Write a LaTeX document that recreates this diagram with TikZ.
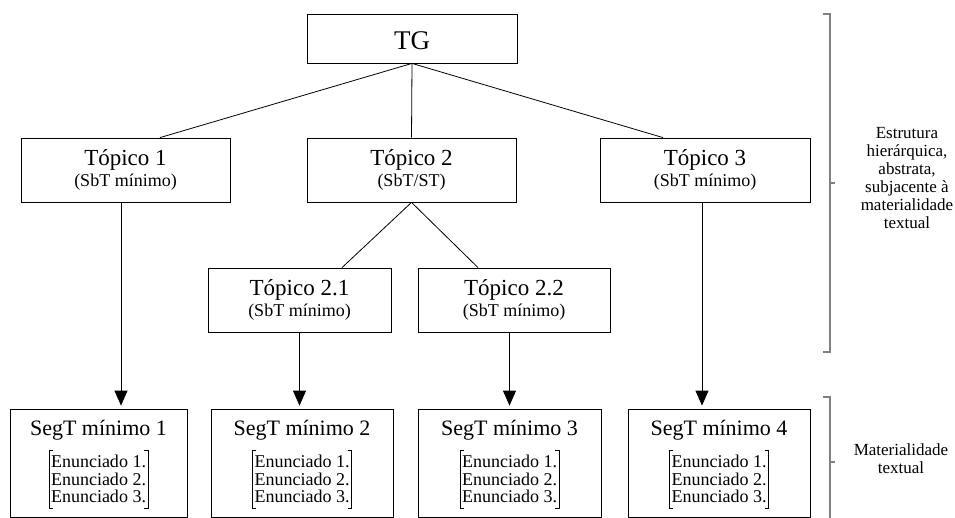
\documentclass[tikz,border=0pt]{standalone}
\usepackage{fontspec}
\setmainfont{Liberation Serif}
\usetikzlibrary{arrows.meta}

\begin{document}
\begin{tikzpicture}[x=1pt,y=-1pt,
box/.style={draw,line width=0.8pt,inner sep=0pt,align=center},
topico/.style={box,minimum height=64pt,font=\fontsize{23}{21}\selectfont,execute at begin node={\rule{0pt}{21pt}}},
segt/.style={box,minimum height=108pt},
seglabel/.style={inner sep=0pt,font=\fontsize{22}{24}\selectfont},
enun/.style={align=left,inner xsep=2pt,inner ysep=5pt,font=\fontsize{18}{17.5}\selectfont},
arr/.style={-{Triangle[width=13pt,length=15pt]},line width=0.8pt,shorten >=3pt},
chave/.style={draw=gray,line width=1.2pt},
lado/.style={align=center,font=\fontsize{17}{18}\selectfont}
]
\useasboundingbox (0,0) rectangle (955,518);

\node[box,minimum width=210pt,minimum height=49pt,font=\fontsize{27}{30}\selectfont,execute at begin node={\rule{0pt}{22pt}}] (tg) at (412,38.5) {TG};

\node[topico,minimum width=209pt] (t1) at (125.5,170) {Tópico 1\\{\fontsize{18}{20}\selectfont (SbT mínimo)}};
\node[topico,minimum width=209pt] (t2) at (411.5,170) {Tópico 2\\{\fontsize{18}{20}\selectfont (SbT/ST)}};
\node[topico,minimum width=210pt] (t3) at (705,170) {Tópico 3\\{\fontsize{18}{20}\selectfont (SbT mínimo)}};
\node[topico,minimum width=183pt] (t21) at (299.5,300) {Tópico 2.1\\{\fontsize{18}{20}\selectfont (SbT mínimo)}};
\node[topico,minimum width=192pt] (t22) at (514,300) {Tópico 2.2\\{\fontsize{18}{20}\selectfont (SbT mínimo)}};

\node[segt,minimum width=177pt] (s1) at (98.5,463) {};
\node[segt,minimum width=182pt] (s2) at (302,463) {};
\node[segt,minimum width=183pt] (s3) at (509.5,463) {};
\node[segt,minimum width=182pt] (s4) at (719,463) {};

\node[seglabel] (s1t) at ([yshift=-22pt]s1.north) {SegT mínimo 1};
\node[seglabel] (s2t) at ([yshift=-22pt]s2.north) {SegT mínimo 2};
\node[seglabel] (s3t) at ([yshift=-22pt]s3.north) {SegT mínimo 3};
\node[seglabel] (s4t) at ([yshift=-22pt]s4.north) {SegT mínimo 4};

\node[enun] (s1e) at ([yshift=-16pt]s1.center) {Enunciado 1.\\Enunciado 2.\\Enunciado 3.};
\node[enun] (s2e) at ([yshift=-16pt]s2.center) {Enunciado 1.\\Enunciado 2.\\Enunciado 3.};
\node[enun] (s3e) at ([yshift=-16pt]s3.center) {Enunciado 1.\\Enunciado 2.\\Enunciado 3.};
\node[enun] (s4e) at ([yshift=-16pt]s4.center) {Enunciado 1.\\Enunciado 2.\\Enunciado 3.};

\foreach \e in {s1e,s2e,s3e,s4e} {
  \draw[line width=0.6pt] ([xshift=4pt]\e.north west) -- (\e.north west) -- (\e.south west) -- ([xshift=4pt]\e.south west);
  \draw[line width=0.6pt] ([xshift=-4pt]\e.north east) -- (\e.north east) -- (\e.south east) -- ([xshift=-4pt]\e.south east);
}

\draw[line width=0.8pt] (tg.south) -- ([xshift=34.5pt]t1.north);
\draw[line width=0.8pt] (tg.south) -- (t2.north);
\draw[line width=0.8pt] (tg.south) -- ([xshift=-42pt]t3.north);
\draw[line width=0.8pt] (t2.south) -- ([xshift=42.5pt]t21.north);
\draw[line width=0.8pt] (t2.south) -- ([xshift=-36pt]t22.north);

\draw[arr] ([xshift=-4.5pt]t1.south) -- ([xshift=-4.5pt]t1.south |- s1.north);
\draw[arr] (t21.south) -- (t21.south |- s2.north);
\draw[arr] (t22.south -| s3.north) -- (s3.north);
\draw[arr] ([xshift=-3pt]t3.south) -- ([xshift=-3pt]t3.south |- s4.north);

\coordinate (c1) at (830,183);
\coordinate (c2) at (830,462);
\draw[chave] (823,14) -- (830,14) -- (830,352) -- (823,352);
\draw[chave] (c1) -- ++(5,0);
\draw[chave] (823,397) -- (830,397) -- (830,518);
\draw[chave] (c2) -- ++(5,0);

\node[lado] (l1) at (907,178) {Estrutura\\hierárquica,\\abstrata,\\subjacente à\\materialidade\\textual};
\node[lado] (l2) at (901,459) {Materialidade\\textual};
\end{tikzpicture}
\end{document}
